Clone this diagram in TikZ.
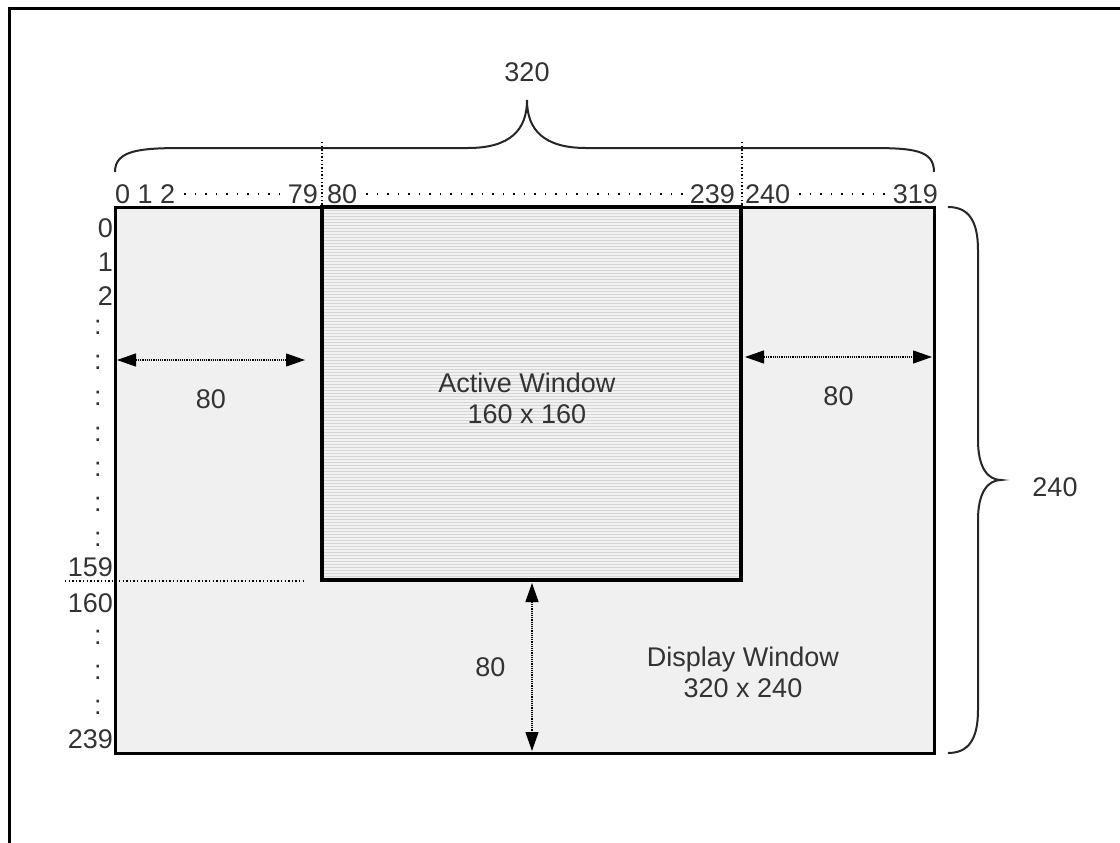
\documentclass[tikz,border=0pt]{standalone}
\usepackage{fontspec}
\setmainfont{Liberation Sans}
\usetikzlibrary{arrows.meta,positioning}
\newcommand{\Dim}[4]{\draw [dim] (#1) to node [#3] {#4} (#2);}

\begin{document}
\begin{tikzpicture}
[x=1pt,y=-1pt,
 font=\fontsize{27}{31}\selectfont,
 txt/.style={text=black!80,inner sep=0pt},
 num/.style={txt,anchor=east},
 dim/.style={<->,densely dotted,line width=1.2pt,>={Triangle[length=19pt,width=13pt]}},
 dotrow/.style={line width=1.5pt,dash pattern=on 1.5pt off 9pt,shorten <=9pt,shorten >=7pt},
 sep/.style={line width=1.4pt,dash pattern=on 1.4pt off 2.2pt},
 brace/.style={line width=2pt,black!85},
 hatch/.style={gray!32,line width=1pt},]

\useasboundingbox (0,0) rectangle (1120,843);
\draw [line width=3pt] (9,843) -- (9,9) -- (1120,9);

% windows
\coordinate (D1) at (115,207);
\coordinate (D2) at (934,753);
\coordinate (A1) at (322,207);
\coordinate (A2) at (741,580);
\fill [gray!12] (D1) rectangle (D2);
\fill [gray!10] (A1) rectangle (A2);
\foreach \y in {210,213,...,578}
  \draw [hatch] (322,\y) -- (741,\y);
\draw [line width=3pt] (D1) rectangle (D2);
\draw [line width=4pt] (A1) rectangle (A2);

\node [txt,align=center] (act) at (527,398) {Active Window\\160 x 160};
\node [txt,align=center] (disp) at (743,672) {Display Window\\320 x 240};

% column numbers
\node [txt,anchor=west] (c012) at (115,194) {0 1 2};
\node [num] (c79) at (318,194) {79};
\node [txt,anchor=west] (c80) at (327,194) {80};
\node [num] (c239) at (735,194) {239};
\node [txt,anchor=west] (c240) at (745,194) {240};
\node [num] (c319) at (938,194) {319};
\draw [dotrow] (c012.east) -- (c79.west);
\draw [dotrow] (c80.east) -- (c239.west);
\draw [dotrow] (c240.east) -- (c319.west);

\coordinate (s1) at (322,142);
\coordinate (s2) at (742,142);
\draw [sep] (s1) -- (A1);
\draw [sep] (s2) -- (742,207);

% row numbers
\node [num] (r0) at (113,228) {0};
\node [num] (r1) at (113,262) {1};
\node [num] (r2) at (113,296) {2};
\foreach \y [count=\i] in {327,362,398,434,469,504,539}
  \node [txt] (ra\i) at (98,\y) {:};
\node [num] (r159) at (113,567) {159};
\node [num] (r160) at (113,603) {160};
\foreach \y [count=\i] in {637,672,707}
  \node [txt] (rb\i) at (98,\y) {:};
\node [num] (r239) at (113,739) {239};

\coordinate (h1) at (65,581);
\coordinate (h2) at (306,581);
\draw [sep] (h1) -- (h2);

% dimensions
\coordinate (l1) at (117,360);
\coordinate (l2) at (305,360);
\coordinate (m1) at (745,357);
\coordinate (m2) at (932,357);
\coordinate (v1) at (532,583);
\coordinate (v2) at (532,751);
\Dim{l1}{l2}{txt,below=29pt}{80}
\Dim{m1}{m2}{txt,below=29pt}{80}
\Dim{v1}{v2}{txt,left=26pt}{80}

% braces
\draw [brace] (115,172) .. controls (115,150) and (140,148) .. (185,148)
  -- (468,148) .. controls (510,148) and (527,130) .. (527,100)
  .. controls (527,130) and (544,148) .. (586,148)
  -- (869,148) .. controls (914,148) and (934,150) .. (934,172);
\node [txt] (w) at (527,72) {320};

\draw [brace] (948,207) .. controls (968,207) and (978,220) .. (978,250)
  -- (978,440) .. controls (978,468) and (988,480) .. (1001,480)
  .. controls (988,480) and (978,492) .. (978,520)
  -- (978,710) .. controls (978,740) and (968,753) .. (948,753);
\node [txt] (h) at (1055,487) {240};
\end{tikzpicture}
\end{document}
